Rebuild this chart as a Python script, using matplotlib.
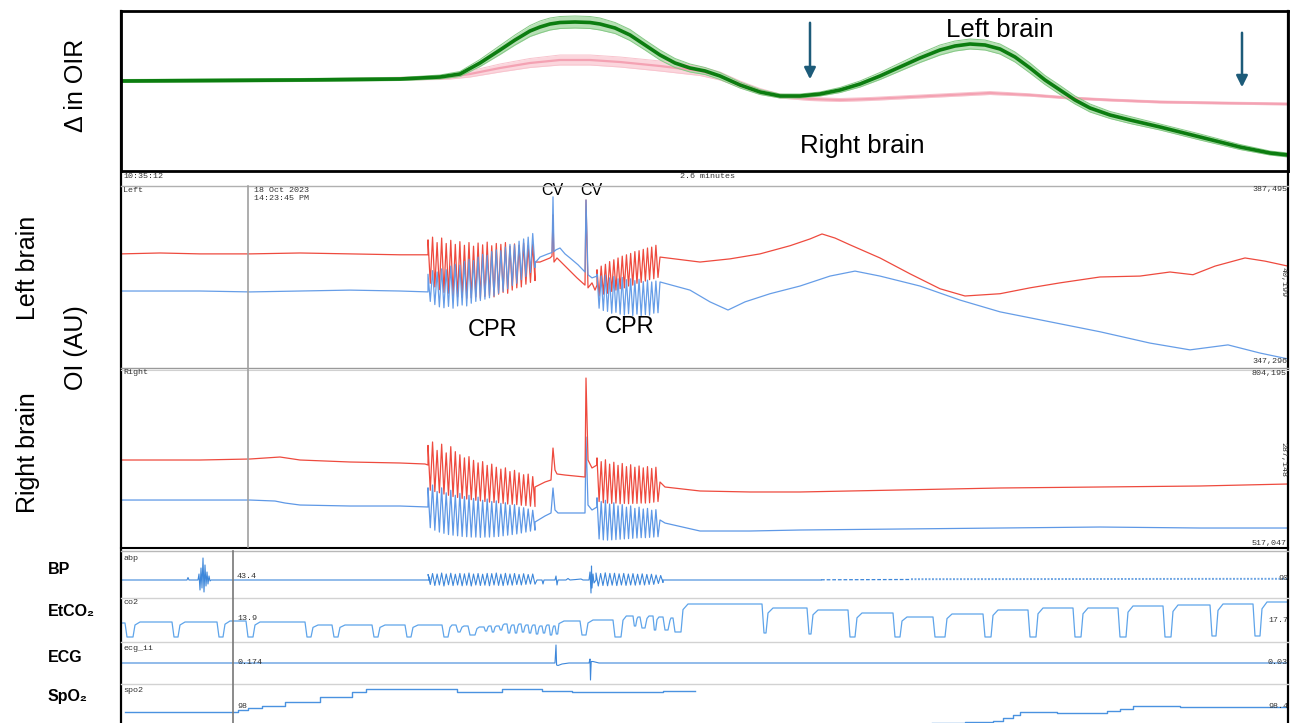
import numpy as np
import matplotlib
matplotlib.use("Agg")
import matplotlib.pyplot as plt

W, H = 1290, 723
T_END = 1167  # length of the displayed window (s)

# ---------------- Δ OIR (top panel) ----------------
oir_left_t = [0, 179, 279, 319, 339, 359, 379, 394, 409, 419, 429, 439, 454, 469, 479, 494, 509,
              524, 539, 554, 569, 584, 599, 619, 639, 659, 679, 699, 719, 739, 759, 779, 799, 819,
              834, 849, 864, 879, 894, 909, 924, 939, 954, 969, 989, 1009, 1039, 1079, 1119, 1149, 1167]
oir_left = [0.0, 0.1, 0.2, 0.4, 0.7, 1.8, 3.1, 4.1, 5.0, 5.4, 5.7, 5.85, 5.9, 5.85, 5.7, 5.3, 4.6,
            3.6, 2.6, 1.8, 1.3, 1.0, 0.5, -0.4, -1.1, -1.5, -1.5, -1.3, -0.9, -0.3, 0.5, 1.4, 2.3, 3.1,
            3.5, 3.7, 3.6, 3.2, 2.4, 1.3, 0.1, -0.9, -1.9, -2.7, -3.4, -3.9, -4.6, -5.6, -6.6, -7.2, -7.4]
oir_left_sd = [0.15, 0.15, 0.15, 0.2, 0.25, 0.35, 0.45, 0.5, 0.55, 0.6, 0.6, 0.6, 0.6, 0.6, 0.6, 0.55, 0.55,
               0.5, 0.5, 0.45, 0.4, 0.35, 0.35, 0.3, 0.25, 0.2, 0.2, 0.2, 0.25, 0.3, 0.35, 0.4, 0.45, 0.5,
               0.5, 0.5, 0.5, 0.5, 0.5, 0.5, 0.45, 0.45, 0.4, 0.4, 0.35, 0.35, 0.3, 0.3, 0.25, 0.2, 0.2]

oir_right_t = [0, 179, 319, 329, 349, 379, 409, 439, 469, 499, 539, 579, 599, 619, 639, 659, 689,
               719, 749, 789, 829, 869, 909, 949, 989, 1039, 1099, 1167]
oir_right = [0.0, 0.1, 0.3, 0.4, 0.7, 1.3, 1.8, 2.1, 2.1, 1.9, 1.5, 1.0, 0.5, -0.3, -1.0, -1.5, -1.8,
             -1.9, -1.8, -1.6, -1.4, -1.2, -1.4, -1.7, -1.9, -2.1, -2.2, -2.3]
oir_right_sd = [0.1, 0.1, 0.15, 0.2, 0.3, 0.4, 0.45, 0.5, 0.5, 0.5, 0.5, 0.45, 0.4, 0.3, 0.25, 0.2, 0.15,
                0.15, 0.15, 0.15, 0.15, 0.15, 0.12, 0.1, 0.1, 0.1, 0.1, 0.1]

event_t = [689, 1121]
event_from = [6.1, 5.1]
event_to = [-0.1, -0.9]

# ---------------- CPR epochs (s) ----------------
cpr1_span = (307, 414)
cpr2_span = (476, 537)

# ---------------- Left brain OI (kAU) ----------------
lb_red_pre_t = [0, 39, 79, 129, 179, 229, 279, 307]
lb_red_pre = [372.5, 372.7, 372.5, 372.5, 372.7, 372.5, 372.3, 372.3]
lb_red_c1_hi = [375.6, 376.2, 375.0, 376.0, 374.8, 375.5, 374.6, 375.2, 374.4, 375.0, 374.2, 374.9,
                374.5, 375.1, 374.3, 374.8, 374.6, 375.0, 374.2, 374.7, 374.4, 374.9, 374.3, 374.6]
lb_red_c1_lo = [366.0, 365.2, 364.6, 364.0, 363.8, 363.3, 363.0, 362.9, 362.7, 362.8, 363.0, 362.7,
                363.1, 363.3, 363.0, 363.6, 364.0, 363.8, 364.5, 365.0, 365.2, 365.8, 366.2, 366.6]
lb_red_mid_t = [414, 419, 429, 431, 432, 433, 436, 446, 456, 464, 465, 467, 471, 474, 476]
lb_red_mid = [370.7, 370.7, 371.6, 372.0, 381.1, 370.7, 371.6, 369.4, 367.2, 365.6, 384.4, 365.0,
              366.1, 364.5, 365.6]
lb_red_c2_hi = [369.0, 369.8, 370.2, 370.8, 371.2, 371.6, 372.0, 372.3, 372.6, 373.0, 373.2, 373.5,
                373.8, 374.0, 374.4]
lb_red_c2_lo = [363.2, 363.6, 363.8, 364.2, 364.5, 364.8, 365.0, 365.4, 365.6, 366.0, 366.2, 366.5,
                366.8, 367.0, 367.3]
lb_red_post_t = [539, 579, 609, 639, 669, 689, 701, 714, 729, 759, 789, 819, 844, 879, 909, 939,
                 979, 1019, 1049, 1072, 1094, 1124, 1144, 1167]
lb_red_post = [371.8, 370.7, 371.4, 372.5, 374.3, 375.8, 376.9, 376.0, 374.5, 371.6, 368.1, 364.8,
               363.2, 363.7, 365.0, 366.1, 367.4, 367.6, 368.5, 367.9, 369.8, 371.6, 370.9, 369.8]

lb_blue_pre_t = [0, 79, 129, 179, 229, 279, 307]
lb_blue_pre = [364.3, 364.3, 364.1, 364.3, 364.5, 364.3, 364.1]
lb_blue_c1_hi = [368.0, 368.8, 368.5, 369.2, 369.0, 369.8, 370.2, 370.0, 370.8, 371.3, 371.0, 371.8,
                 372.4, 372.2, 373.0, 373.4, 373.2, 374.0, 374.6, 374.5, 375.3, 375.8, 376.2, 377.0]
lb_blue_c1_lo = [362.0, 361.3, 360.8, 360.6, 360.9, 360.5, 361.0, 361.2, 361.0, 361.6, 362.0, 362.2,
                 362.5, 362.8, 363.2, 363.8, 364.2, 364.8, 365.5, 366.0, 366.8, 367.5, 368.4, 369.5]
lb_blue_mid_t = [414, 419, 427, 431, 432, 433, 435, 439, 444, 449, 457, 464, 465, 467, 471, 476]
lb_blue_mid = [370.5, 371.8, 372.5, 372.8, 385.1, 373.0, 373.4, 373.8, 372.5, 371.6, 370.1, 368.5,
               384.4, 367.9, 367.2, 367.6]
lb_blue_c2_hi = [368.0, 367.6, 367.8, 367.2, 367.5, 367.0, 367.3, 366.8, 367.0, 366.6, 366.9, 366.4,
                 366.7, 366.3, 366.5]
lb_blue_c2_lo = [360.5, 360.0, 359.8, 359.4, 359.6, 359.2, 359.0, 359.3, 358.9, 359.2, 358.8, 359.1,
                 359.0, 359.4, 359.5]
lb_blue_post_t = [539, 569, 589, 607, 624, 649, 679, 709, 734, 759, 799, 839, 879, 929, 979, 1029,
                  1069, 1107, 1139, 1167]
lb_blue_post = [366.3, 364.5, 361.9, 360.1, 361.9, 363.7, 365.4, 367.6, 368.7, 367.6, 365.4, 362.3,
                359.7, 357.5, 355.3, 352.8, 351.3, 352.4, 350.6, 349.3]

# ---------------- Right brain OI (kAU) ----------------
rb_red_pre_t = [0, 79, 129, 159, 179, 229, 279, 304, 307]
rb_red_pre = [656.6, 656.6, 658.2, 661.4, 656.6, 653.4, 651.8, 650.2, 648.6]
rb_red_c1_hi = [680.0, 685.5, 672.0, 682.0, 668.0, 678.0, 670.0, 665.0, 660.0, 662.0, 656.0, 652.0,
                654.0, 648.0, 650.0, 645.0, 642.0, 644.0, 638.0, 640.0, 636.0, 633.0, 634.0, 630.0]
rb_red_c1_lo = [608.0, 606.0, 604.0, 602.0, 600.0, 598.0, 596.5, 595.0, 594.0, 593.0, 592.0, 591.0,
                590.0, 589.0, 588.5, 588.0, 587.0, 586.0, 585.5, 585.0, 584.0, 583.5, 582.5, 582.0]
rb_red_mid_t = [414, 424, 430, 432, 434, 436, 444, 464, 465, 467, 471, 476]
rb_red_mid = [613.3, 621.3, 624.5, 675.8, 640.5, 634.2, 632.5, 629.3, 788.1, 656.6, 643.8, 648.6]
rb_red_c2_hi = [660.0, 654.0, 657.0, 650.0, 653.0, 648.0, 651.0, 646.0, 649.0, 645.0, 647.0, 644.0,
                646.0, 643.0, 645.0]
rb_red_c2_lo = [590.0, 588.0, 587.5, 587.0, 587.5, 586.5, 587.0, 586.5, 587.0, 587.0, 587.5, 587.5,
                588.0, 589.0, 590.0]
rb_red_post_t = [539, 544, 579, 629, 679, 779, 879, 979, 1079, 1167]
rb_red_post = [621.3, 613.3, 606.9, 605.3, 605.3, 608.5, 611.7, 613.3, 614.9, 618.1]

rb_blue_pre_t = [0, 79, 129, 154, 164, 179, 229, 279, 307]
rb_blue_pre = [592.4, 592.4, 592.4, 590.8, 587.6, 584.4, 582.8, 582.8, 581.2]
rb_blue_c1_hi = [612.0, 616.5, 606.0, 612.0, 604.0, 608.0, 600.0, 603.0, 598.0, 600.0, 595.0, 597.0,
                 592.0, 594.0, 590.0, 591.0, 587.0, 588.0, 584.0, 585.0, 581.0, 580.0, 578.0, 576.0]
rb_blue_c1_lo = [548.0, 544.0, 541.0, 539.0, 537.0, 536.0, 535.0, 534.0, 533.5, 533.0, 533.0, 532.5,
                 533.0, 533.0, 533.5, 534.0, 535.0, 536.0, 537.0, 538.0, 539.5, 541.0, 542.5, 544.0]
rb_blue_mid_t = [414, 424, 430, 432, 434, 437, 464, 465, 467, 471, 476]
rb_blue_mid = [557.1, 566.8, 571.6, 611.7, 576.4, 571.6, 571.6, 693.5, 584.4, 576.4, 581.2]
rb_blue_c2_hi = [596.0, 590.0, 592.0, 586.0, 588.0, 583.0, 585.0, 581.0, 583.0, 579.0, 581.0, 578.0,
                 579.0, 576.0, 577.0]
rb_blue_c2_lo = [530.0, 528.5, 528.0, 528.5, 529.0, 529.5, 530.0, 530.5, 531.0, 531.5, 532.0, 532.0,
                 532.5, 533.0, 533.5]
rb_blue_post_t = [539, 544, 579, 629, 679, 779, 879, 979, 1079, 1167]
rb_blue_post = [560.4, 555.5, 542.7, 542.7, 544.3, 545.9, 547.5, 549.1, 547.5, 547.5]

# ---------------- abp ----------------
abp_pre_t = [0, 66, 67, 68, 77, 78, 79, 80, 81, 82, 83, 84, 85, 86, 87, 88, 89, 90, 309]
abp_pre = [18, 18, 20.5, 18, 18, 24, 8, 30, 10, 40, 6, 33, 12, 26, 14, 22, 17, 18, 18]
abp_c1_hi = [23.5, 24.5, 24.0, 25.0, 24.0, 24.8, 23.8, 24.6, 24.2, 25.0, 24.0, 24.5,
             23.8, 24.6, 24.4, 25.0, 23.9, 24.7, 24.0, 24.5, 23.6, 24.3, 23.5, 24.0]
abp_c1_lo = [13.5, 12.5, 13.0, 12.0, 13.2, 12.4, 13.0, 12.2, 12.8, 12.0, 13.0, 12.5,
             12.8, 12.2, 13.0, 12.6, 12.4, 13.0, 12.8, 13.4, 13.0, 13.6, 14.0, 13.8]
abp_mid_t = [416, 421, 422, 423, 434, 435, 436, 437, 445, 447, 449, 455, 460, 462, 468, 469,
             470, 470.5, 471, 472, 473, 475]
abp_mid = [18, 18, 14, 18, 18, 22, 13, 18, 18, 19.5, 18, 18.5, 19, 18, 18, 26, 5, 32, 10, 24, 15, 18]
abp_c2_hi = [25.0, 24.5, 25.2, 24.6, 24.8, 24.2, 24.6, 24.0, 24.4, 23.8, 24.2, 23.6, 23.8, 23.0, 22.5]
abp_c2_lo = [12.0, 12.5, 12.2, 12.8, 12.4, 13.0, 12.6, 13.0, 12.8, 13.2, 13.0, 13.5, 13.6, 14.5, 15.5]
abp_c2_span = (475, 542)
abp_post_t = [542, 700]
abp_post = [18, 18]
abp_dash_t = [700, 790]
abp_dash = [18.2, 18.5]
abp_pulse_t = [790, 1167]
abp_pulse = [18.8, 19.2]

# ---------------- co2 (breath-by-breath) ----------------
co2_dip_start = [4, 51, 96, 125, 184, 211, 251, 284, 321, 335, 347, 363, 370, 378, 386, 393, 400,
                 407, 414, 421, 428, 434, 459, 492, 512, 519, 532, 542, 552, 641, 686, 727, 772,
                 812, 862, 907, 952, 997, 1042, 1089, 1132]
co2_dip_end = [14, 59, 104, 134, 192, 219, 259, 292, 329, 341, 356, 367, 374, 382, 390, 397, 404,
               411, 418, 425, 432, 438, 467, 502, 516, 526, 536, 549, 562, 647, 692, 736, 781,
               826, 872, 917, 962, 1007, 1052, 1097, 1141]
co2_dip_floor = [5, 5, 5, 5, 5, 5, 5, 5, 5, 10, 7, 11, 10, 12, 9, 9, 10, 9, 8, 9, 7, 8, 7, 5,
                 16, 14, 12, 12, 10, 9, 8, 5, 5, 5, 5, 5, 5, 5, 5, 6, 6]
co2_level = [19, 20, 20, 21, 20, 17, 17, 17, 17, 17, 16, 15, 16, 16, 18, 17, 18, 17, 17, 16, 17,
             16, 21, 22, 26, 25, 26, 25, 24, 38, 34, 32, 29, 25, 28, 32, 34, 34, 36, 37, 38]
co2_final = 40

# ---------------- ecg ----------------
ecg_t = [0, 434, 435, 435.6, 437, 441, 448, 468, 469, 469.5, 470.2, 472, 478, 1167]
ecg_v = [21, 21, 39, 19, 18.5, 20, 21, 21, 25, 4, 22.5, 22.5, 21, 21]

# ---------------- spo2 (stepwise) ----------------
spo2_t = [4, 117, 127, 141, 164, 199, 231, 245, 336, 381, 421, 451, 542, 574, 811, 844, 872, 882,
          892, 899, 936, 986, 999, 1012, 1059, 1167]
spo2_v = [11, 13, 15, 17, 21, 26, 31, 34, 31, 34, 32, 31, 32, np.nan, 0.5, 1.5, 2, 5, 8, 11, 10,
          12, 14, 17.5, 16, 16]

RED = "#ee4a3e"
BLUE = "#5e98e6"
TRACE = "#3d87da"


def compressions(span, hi, lo):
    """Alternate peak / trough of each chest compression over the CPR epoch."""
    tt = np.linspace(span[0], span[1], 2 * len(hi))
    vv = np.column_stack([hi, lo]).ravel()
    return tt, vv


def trace(pre_t, pre, c1, mid_t, mid, c2, post_t, post, span2=cpr2_span):
    a = compressions(cpr1_span, *c1)
    b = compressions(span2, *c2)
    t = np.concatenate([pre_t, a[0], mid_t, b[0], post_t])
    v = np.concatenate([pre, a[1], mid, b[1], post])
    return t, v


def co2_wave():
    """Capnogram: plateau per breath, expiratory dip, rounded recovery."""
    t, v = [0], [co2_level[0]]
    n = len(co2_dip_start)
    for i, (s, e, f) in enumerate(zip(co2_dip_start, co2_dip_end, co2_dip_floor)):
        nxt = co2_level[i + 1] if i + 1 < n else co2_final
        nxt_s = co2_dip_start[i + 1] if i + 1 < n else T_END
        w = min(2.0, (e - s) / 3)
        r = min(5.0, (nxt_s - e) / 3)
        t += [s, s + w, e - w, e, e + r]
        v += [co2_level[i], f, f, f + 0.8 * (nxt - f), nxt]
    t.append(T_END)
    v.append(co2_final)
    return t, v


plt.rcParams['font.family'] = ['Liberation Sans', 'DejaVu Sans']
fig = plt.figure(figsize=(W / 100, H / 100), dpi=100)
fig.patch.set_facecolor("white")


def px_box(x0, y0, x1, y1):
    return [x0 / W, 1 - y1 / H, (x1 - x0) / W, (y1 - y0) / H]


def bare(ax):
    ax.set_xticks([])
    ax.set_yticks([])
    for s in ax.spines.values():
        s.set_visible(False)
    ax.patch.set_alpha(0)
    ax.set_xlim(0, T_END)


# ---- top: ΔOIR ----
ax0 = fig.add_axes(px_box(121, 11, 1288, 171))
ax0.set_xlim(0, T_END)
ax0.set_ylim(-9.0, 7.0)
ax0.set_xticks([])
ax0.set_yticks([])
for s in ax0.spines.values():
    s.set_linewidth(2)
    s.set_color("black")

rt, rv, rs = np.array(oir_right_t), np.array(oir_right), np.array(oir_right_sd)
ax0.fill_between(rt, rv - rs, rv + rs, color="#fbd6dd", lw=0)
ax0.plot(rt, rv - rs, color="#f8c4ce", lw=0.7)
ax0.plot(rt, rv + rs, color="#f8c4ce", lw=0.7)
ax0.plot(rt, rv, color="#f4a2b3", lw=1.6)

lt, lv, ls = np.array(oir_left_t), np.array(oir_left), np.array(oir_left_sd)
ax0.fill_between(lt, lv - ls, lv + ls, color="#b7e0b5", lw=0)
ax0.plot(lt, lv - ls, color="#86c986", lw=0.7)
ax0.plot(lt, lv + ls, color="#86c986", lw=0.7)
ax0.plot(lt, lv, color="#0c7d10", lw=2.6, solid_joinstyle="round")

for et, e0, e1 in zip(event_t, event_from, event_to):
    ax0.annotate("", xy=(et, e1), xytext=(et, e0),
                 arrowprops=dict(arrowstyle="-|>", color="#1d5b79", lw=1.8, mutation_scale=17))

ax0.text(879, 5.1, "Left brain", ha="center", va="center", fontsize=18.5)
ax0.text(741, -6.5, "Right brain", ha="center", va="center", fontsize=18.5)

# ---- left brain OI ----
ax1 = fig.add_axes(px_box(121, 186, 1288, 368))
bare(ax1)
ax1.set_ylim(347.296, 387.495)
t, v = trace(lb_red_pre_t, lb_red_pre, (lb_red_c1_hi, lb_red_c1_lo), lb_red_mid_t, lb_red_mid,
             (lb_red_c2_hi, lb_red_c2_lo), lb_red_post_t, lb_red_post)
ax1.plot(t, v, color=RED, lw=0.9)
t, v = trace(lb_blue_pre_t, lb_blue_pre, (lb_blue_c1_hi, lb_blue_c1_lo), lb_blue_mid_t, lb_blue_mid,
             (lb_blue_c2_hi, lb_blue_c2_lo), lb_blue_post_t, lb_blue_post)
ax1.plot(t, v, color=BLUE, lw=0.9, alpha=0.95)
ax1.text(372, 355.6, "CPR", ha="center", va="center", fontsize=17)
ax1.text(509, 356.3, "CPR", ha="center", va="center", fontsize=17)
ax1.text(431, 386.6, "CV", ha="center", va="center", fontsize=11.5)
ax1.text(470, 386.6, "CV", ha="center", va="center", fontsize=11.5)

# ---- right brain OI ----
ax2 = fig.add_axes(px_box(121, 368, 1288, 547))
bare(ax2)
ax2.set_ylim(517.047, 804.195)
t, v = trace(rb_blue_pre_t, rb_blue_pre, (rb_blue_c1_hi, rb_blue_c1_lo), rb_blue_mid_t, rb_blue_mid,
             (rb_blue_c2_hi, rb_blue_c2_lo), rb_blue_post_t, rb_blue_post)
ax2.plot(t, v, color=BLUE, lw=0.9)
t, v = trace(rb_red_pre_t, rb_red_pre, (rb_red_c1_hi, rb_red_c1_lo), rb_red_mid_t, rb_red_mid,
             (rb_red_c2_hi, rb_red_c2_lo), rb_red_post_t, rb_red_post)
ax2.plot(t, v, color=RED, lw=0.9)

# ---- abp ----
ax3 = fig.add_axes(px_box(121, 551, 1288, 598))
bare(ax3)
ax3.set_ylim(0, 47)
t, v = trace(abp_pre_t, abp_pre, (abp_c1_hi, abp_c1_lo), abp_mid_t, abp_mid,
             (abp_c2_hi, abp_c2_lo), abp_post_t, abp_post, span2=abp_c2_span)
ax3.plot(t, v, color=TRACE, lw=0.8)
ax3.plot(abp_dash_t, abp_dash, color=TRACE, lw=0.9, ls=(0, (3, 1.5)))
ax3.plot(abp_pulse_t, abp_pulse, color=TRACE, lw=1.4, ls=(0, (1, 0.8)), alpha=0.75)

# ---- co2 ----
ax4 = fig.add_axes(px_box(121, 598, 1288, 642))
bare(ax4)
ax4.set_ylim(0, 44)
ct, cv = co2_wave()
ax4.plot(ct, cv, color="#5ea4ea", lw=0.9)

# ---- ecg ----
ax5 = fig.add_axes(px_box(121, 642, 1288, 684))
bare(ax5)
ax5.set_ylim(0, 42)
ax5.plot(ecg_t, ecg_v, color=TRACE, lw=0.8)

# ---- spo2 ----
ax6 = fig.add_axes(px_box(121, 684, 1288, 723))
bare(ax6)
ax6.set_ylim(0, 39)
ax6.plot(spo2_t, spo2_v, color="#4a92e0", lw=1.0, drawstyle="steps-post")

# ---- frame lines, captions and channel labels ----
ov = fig.add_axes([0, 0, 1, 1], zorder=10)
ov.set_xlim(0, W)
ov.set_ylim(H, 0)
ov.axis("off")

ov.plot([121, 121], [11, 723], color="black", lw=1.6)
ov.plot([1288, 1288], [11, 723], color="black", lw=1.6)
ov.plot([121, 1288], [186, 186], color="#b0b0b0", lw=1.0)
ov.plot([121, 1288], [367.5, 367.5], color="#9a9a9a", lw=1.0)
ov.plot([121, 1288], [369.5, 369.5], color="#d0d0d0", lw=0.8)
ov.plot([121, 1288], [547.5, 547.5], color="black", lw=1.5)
ov.plot([121, 1288], [550.5, 550.5], color="#b8b8b8", lw=1.0)
for yy in (598, 642, 684):
    ov.plot([121, 1288], [yy, yy], color="#d2d2d2", lw=1.0)
ov.plot([248, 248], [186, 547], color="#a0a0a0", lw=1.2)
ov.plot([232.5, 232.5], [551, 723], color="#777777", lw=1.2)

mono = dict(family="Liberation Mono", fontsize=6, color="#333333")
ov.text(123, 176, "10:35:12", va="center", ha="left", **mono)
ov.text(680, 176, "2.6 minutes", va="center", ha="left", **mono)
ov.text(123, 190, "Left", va="center", ha="left", **mono)
ov.text(254, 191, "18 Oct 2023", va="center", ha="left", **mono)
ov.text(254, 199, "14:23:45 PM", va="center", ha="left", **mono)
ov.text(1287, 190, "387,495", va="center", ha="right", **mono)
ov.text(1283, 282, "40,199", va="center", ha="center", rotation=-90, **mono)
ov.text(1287, 362, "347,296", va="center", ha="right", **mono)
ov.text(123, 372, "Right", va="center", ha="left", **mono)
ov.text(1287, 374, "804,195", va="center", ha="right", **mono)
ov.text(1283, 460, "287,148", va="center", ha="center", rotation=-90, **mono)
ov.text(1287, 544, "517,047", va="center", ha="right", **mono)

for lab, yy in (("abp", 558), ("co2", 603), ("ecg_ii", 648), ("spo2", 691)):
    ov.text(123, yy, lab, va="center", ha="left", **mono)
for lab, yy in (("43.4", 576), ("13.9", 619), ("0.174", 662), ("98", 707)):
    ov.text(237, yy, lab, va="center", ha="left", **mono)
for lab, yy in (("90", 578), ("17.7", 620), ("0.03", 663), ("98.4", 706)):
    ov.text(1288, yy, lab, va="center", ha="right", **mono)

big = dict(fontsize=18, color="black", rotation=90, ha="center", va="center")
ov.text(76, 85, "Δ in OIR", **big)
ov.text(28, 268, "Left brain", **big)
ov.text(76, 348, "OI (AU)", **big)
ov.text(28, 453, "Right brain", **big)

bold = dict(fontsize=11.5, fontweight="bold", ha="left", va="center", color="black")
ov.text(48, 570, "BP", **bold)
ov.text(48, 612, "EtCO₂", **bold)
ov.text(48, 657, "ECG", **bold)
ov.text(48, 697, "SpO₂", **bold)

fig.savefig("out.png", dpi=100, facecolor="white")
